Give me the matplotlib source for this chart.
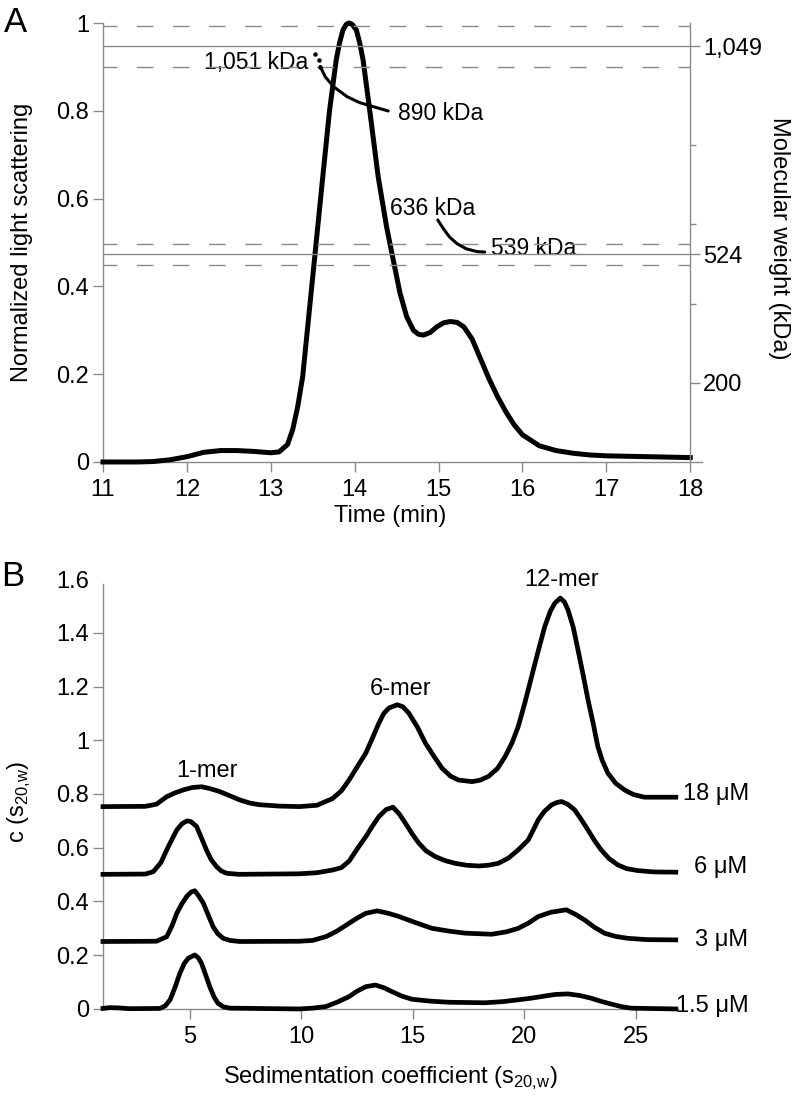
import matplotlib
matplotlib.use("Agg")
import matplotlib.pyplot as plt
from matplotlib.ticker import FuncFormatter

plt.rcParams["font.family"] = ["Liberation Sans", "DejaVu Sans"]
plt.rcParams["font.size"] = 17

GRAY = "#8a8a8a"

# --- panel A: light scattering trace ---
time_min = [11.0, 11.4, 11.6, 11.8, 12.0, 12.2, 12.4, 12.6, 12.8, 13.0, 13.1,
            13.2, 13.26, 13.32, 13.38, 13.46, 13.54, 13.62, 13.70, 13.78,
            13.82, 13.86, 13.90, 13.93, 13.97, 14.02, 14.06, 14.10, 14.18,
            14.28, 14.38, 14.46, 14.54, 14.62, 14.70, 14.76, 14.82, 14.90,
            14.98, 15.06, 15.14, 15.22, 15.30, 15.40, 15.50, 15.60, 15.70,
            15.80, 15.90, 16.0, 16.2, 16.4, 16.6, 16.8, 17.0, 17.5, 18.0]
light_scatter = [0.0, 0.0, 0.001, 0.005, 0.012, 0.022, 0.026, 0.026, 0.024,
                 0.021, 0.023, 0.04, 0.073, 0.125, 0.194, 0.346, 0.498, 0.65,
                 0.80, 0.916, 0.955, 0.984, 0.997, 1.0, 0.997, 0.984, 0.955,
                 0.916, 0.80, 0.65, 0.536, 0.46, 0.385, 0.331, 0.30, 0.291,
                 0.289, 0.295, 0.308, 0.317, 0.32, 0.318, 0.308, 0.28, 0.235,
                 0.19, 0.15, 0.115, 0.085, 0.062, 0.037, 0.026, 0.020, 0.016,
                 0.014, 0.012, 0.010]

# molecular weight across the two peaks (kDa)
mw1_time = [13.53, 13.57, 13.59, 13.65, 13.75, 13.91, 14.06, 14.22, 14.40]
mw1_kda = [1031, 1015, 998, 972, 947, 922, 907, 897, 886]
mw2_time = [14.99, 15.06, 15.13, 15.22, 15.33, 15.46, 15.55]
mw2_kda = [611, 588, 568, 551, 538, 531, 530]

mw_refs = [1049, 524]          # expected 12-mer and 6-mer
mw_ticks = [200, 524, 1049]
mw_tick_labels = ["200", "524", "1,049"]

# --- panel B: c(s) distributions (offset traces) ---
s18 = [1.1, 3.0, 3.5, 3.96, 4.3, 4.70, 5.1, 5.52, 5.9, 6.34, 6.8, 7.23, 7.7,
       8.13, 9.0, 9.91, 10.7, 11.40, 11.8, 12.14, 12.5, 12.89, 13.2, 13.48,
       13.7, 13.93, 14.30, 14.55, 14.82, 15.2, 15.57, 15.95, 16.31, 16.7,
       17.05, 17.65, 18.0, 18.39, 18.8, 19.14, 19.45, 19.73, 20.03, 20.33,
       20.62, 20.92, 21.17, 21.37, 21.62, 21.8, 21.96, 22.2, 22.41, 22.65,
       22.86, 23.1, 23.30, 23.5, 23.75, 24.1, 24.50, 24.9, 25.39, 26.8]
c18 = [0.753, 0.754, 0.762, 0.79, 0.803, 0.815, 0.824, 0.827, 0.82, 0.809,
       0.793, 0.778, 0.766, 0.76, 0.755, 0.753, 0.758, 0.783, 0.812, 0.852,
       0.90, 0.952, 1.01, 1.064, 1.10, 1.12, 1.132, 1.125, 1.101, 1.05, 0.989,
       0.94, 0.896, 0.866, 0.852, 0.846, 0.851, 0.865, 0.895, 0.939, 0.99,
       1.051, 1.14, 1.237, 1.33, 1.423, 1.48, 1.51, 1.529, 1.515, 1.486, 1.42,
       1.337, 1.24, 1.151, 1.06, 0.977, 0.925, 0.878, 0.84, 0.815, 0.798,
       0.788, 0.788]

s6 = [1.1, 3.0, 3.36, 3.7, 3.96, 4.2, 4.41, 4.65, 4.88, 5.05, 5.30, 5.5, 5.74,
      5.95, 6.19, 6.4, 6.64, 7.2, 9.91, 10.7, 11.40, 11.8, 12.14, 12.5, 12.89,
      13.2, 13.48, 13.8, 14.11, 14.4, 14.67, 14.97, 15.27, 15.6, 16.01, 16.45,
      16.90, 17.4, 17.95, 18.4, 18.84, 19.3, 19.73, 19.95, 20.18, 20.4, 20.63,
      20.9, 21.22, 21.45, 21.67, 21.95, 22.26, 22.55, 22.86, 23.15, 23.45,
      23.8, 24.2, 24.6, 25.09, 25.8, 26.8]
c6 = [0.501, 0.502, 0.511, 0.545, 0.592, 0.632, 0.666, 0.69, 0.70, 0.697,
      0.679, 0.64, 0.592, 0.556, 0.53, 0.514, 0.505, 0.501, 0.503, 0.507,
      0.517, 0.526, 0.55, 0.595, 0.641, 0.682, 0.716, 0.742, 0.751, 0.725,
      0.691, 0.652, 0.617, 0.588, 0.567, 0.552, 0.542, 0.535, 0.532, 0.535,
      0.542, 0.562, 0.592, 0.61, 0.629, 0.665, 0.704, 0.735, 0.759, 0.768,
      0.772, 0.762, 0.741, 0.706, 0.666, 0.627, 0.592, 0.56, 0.536, 0.522,
      0.515, 0.51, 0.509]

s3 = [1.1, 3.5, 3.96, 4.2, 4.41, 4.63, 4.85, 5.05, 5.22, 5.40, 5.60, 5.82,
      6.04, 6.25, 6.49, 6.8, 7.23, 9.91, 10.5, 11.10, 11.6, 12.14, 12.5, 12.89,
      13.41, 13.9, 14.38, 15.1, 15.86, 16.6, 17.35, 18.54, 19.2, 19.73, 20.2,
      20.63, 21.2, 21.89, 22.3, 22.71, 23.15, 23.60, 24.1, 24.64, 25.5, 26.8]
c3 = [0.251, 0.252, 0.269, 0.31, 0.356, 0.39, 0.418, 0.435, 0.44, 0.42, 0.394,
      0.35, 0.306, 0.28, 0.263, 0.255, 0.251, 0.252, 0.255, 0.269, 0.29, 0.319,
      0.338, 0.356, 0.365, 0.356, 0.344, 0.322, 0.30, 0.29, 0.282, 0.278,
      0.287, 0.30, 0.32, 0.344, 0.36, 0.369, 0.352, 0.331, 0.304, 0.282, 0.27,
      0.263, 0.258, 0.257]

s15 = [1.1, 1.4, 1.8, 2.3, 3.66, 3.9, 4.11, 4.33, 4.55, 4.75, 4.93, 5.22,
       5.38, 5.52, 5.7, 5.89, 6.08, 6.26, 6.5, 6.79, 9.91, 10.5, 11.10, 11.6,
       12.14, 12.5, 12.89, 13.33, 13.7, 14.08, 14.5, 14.97, 15.8, 16.61, 18.24,
       19.0, 19.73, 20.3, 20.92, 21.4, 21.96, 22.5, 23.0, 23.5, 24.05, 24.4,
       24.79, 26.8]
c15 = [0.002, 0.005, 0.004, 0.001, 0.002, 0.012, 0.034, 0.08, 0.133, 0.17,
       0.189, 0.201, 0.19, 0.17, 0.128, 0.083, 0.045, 0.021, 0.008, 0.003,
       0.0, 0.003, 0.009, 0.025, 0.046, 0.066, 0.083, 0.089, 0.079, 0.064,
       0.048, 0.036, 0.029, 0.025, 0.023, 0.027, 0.034, 0.04, 0.048, 0.054,
       0.056, 0.05, 0.04, 0.027, 0.015, 0.008, 0.003, 0.0]

conc_labels = ["18 \u03bcM", "6 \u03bcM", "3 \u03bcM", "1.5 \u03bcM"]
peak_labels = ["1-mer", "6-mer", "12-mer"]


def style_axis(ax):
    for side in ["left", "right", "bottom", "top"]:
        ax.spines[side].set_color(GRAY)
        ax.spines[side].set_linewidth(1)
    ax.tick_params(direction="out", length=7, width=1, color=GRAY,
                   labelcolor="black", labelsize=17)
    ax.tick_params(axis="x", pad=5)
    ax.tick_params(axis="y", pad=3)


fmt = FuncFormatter(lambda v, p: f"{v:g}")

fig = plt.figure(figsize=(7.99, 11.01), dpi=100)

# ---------- A ----------
ax = fig.add_axes([0.1289, 0.5804, 0.7497, 0.3987])
style_axis(ax)
ax.plot(time_min, light_scatter, color="black", lw=3.6, clip_on=False,
        solid_joinstyle="round", zorder=5)
ax.set_xlim(11, 18.14)
ax.set_ylim(0, 1)
ax.set_xticks(range(11, 19))
ax.set_yticks([0, 0.2, 0.4, 0.6, 0.8, 1.0])
ax.yaxis.set_major_formatter(fmt)
ax.spines["top"].set_visible(False)
ax.spines["right"].set_visible(False)
ax.set_xlabel("Time (min)", fontsize=17)
ax.xaxis.set_label_coords(0.479, -0.097)
ax.set_ylabel("Normalized light scattering", fontsize=17)
ax.yaxis.set_label_coords(-0.117, 0.5)

ax2 = ax.twinx()
style_axis(ax2)
ax2.set_ylim(0, 1108)
for side in ["top", "left", "bottom"]:
    ax2.spines[side].set_visible(False)
ax2.spines["right"].set_position(("data", 18))
ax2.set_yticks(mw_ticks)
ax2.set_yticklabels(mw_tick_labels)
ax2.set_yticks([400, 600, 800], minor=True)
ax2.tick_params(axis="y", which="minor", length=4, width=1, color=GRAY)
ax2.tick_params(axis="y", pad=2)
for ref in mw_refs:
    ax2.hlines(ref, 11, 18, color=GRAY, lw=1, zorder=1)
    ax2.hlines([ref * 1.05, ref * 0.95], 11, 18, color=GRAY, lw=1,
               linestyle=(2, (12, 14)), zorder=1)
ax2.plot(mw1_time[:3], mw1_kda[:3], ls="none", marker="o", ms=2.2,
         color="black", zorder=6)
ax2.plot(mw1_time[2:], mw1_kda[2:], color="black", lw=2.2,
         solid_capstyle="round", zorder=6)
ax2.plot(mw2_time, mw2_kda, color="black", lw=2.2, solid_capstyle="round",
         zorder=6)
ax2.set_ylabel("Molecular weight (kDa)", rotation=270, fontsize=17)
ax2.yaxis.set_label_coords(1.147, 0.51)

ax.text(13.45, 0.895, "1,051 kDa", ha="right", va="baseline", fontsize=16.5, zorder=7)
ax.text(14.52, 0.779, "890 kDa", ha="left", va="baseline", fontsize=16.5, zorder=7)
ax.text(14.42, 0.563, "636 kDa", ha="left", va="baseline", fontsize=16.5, zorder=7)
ax.text(15.63, 0.4715, "539 kDa", ha="left", va="baseline", fontsize=16.5, zorder=7)

fig.text(15 / 799, 1 - 23 / 1101, "A", fontsize=25, ha="center", va="center")

# ---------- B ----------
bx = fig.add_axes([0.1289, 0.0836, 0.7197, 0.3905])
style_axis(bx)
for s, c in [(s18, c18), (s6, c6), (s3, c3), (s15, c15)]:
    bx.plot(s, c, color="black", lw=3.4, clip_on=False,
            solid_joinstyle="round", zorder=5)
bx.set_xlim(1.1, 26.9)
bx.set_ylim(0, 1.6)
bx.set_xticks([5, 10, 15, 20, 25])
bx.set_yticks([0, 0.2, 0.4, 0.6, 0.8, 1.0, 1.2, 1.4, 1.6])
bx.yaxis.set_major_formatter(fmt)
bx.yaxis.get_major_ticks()[-1].tick1line.set_visible(False)
bx.spines["top"].set_visible(False)
bx.spines["right"].set_visible(False)
bx.spines["left"].set_bounds(0, 1.58)
bx.set_xlabel(r"Sedimentation coefficient (s$_{\mathregular{20{,}w}}$)", fontsize=17)
bx.xaxis.set_label_coords(0.5, -0.130)
bx.set_ylabel(r"c (s$_{\mathregular{20{,}w}}$)", fontsize=17)
bx.yaxis.set_label_coords(-0.122, 0.481)

# concentration labels next to each trace end
for lab, (xl, yl) in zip(conc_labels, [(27.14, 0.778), (27.63, 0.506),
                                       (27.68, 0.235), (26.79, -0.011)]):
    bx.text(xl, yl, lab, ha="left", va="baseline", fontsize=17)
for lab, (xl, yl) in zip(peak_labels, [(5.75, 0.864), (14.45, 1.169),
                                       (21.67, 1.575)]):
    bx.text(xl, yl, lab, ha="center", va="baseline", fontsize=17)

fig.text(13 / 799, 1 - 577 / 1101, "B", fontsize=25, ha="center", va="center")

fig.savefig("out.png", dpi=100)
